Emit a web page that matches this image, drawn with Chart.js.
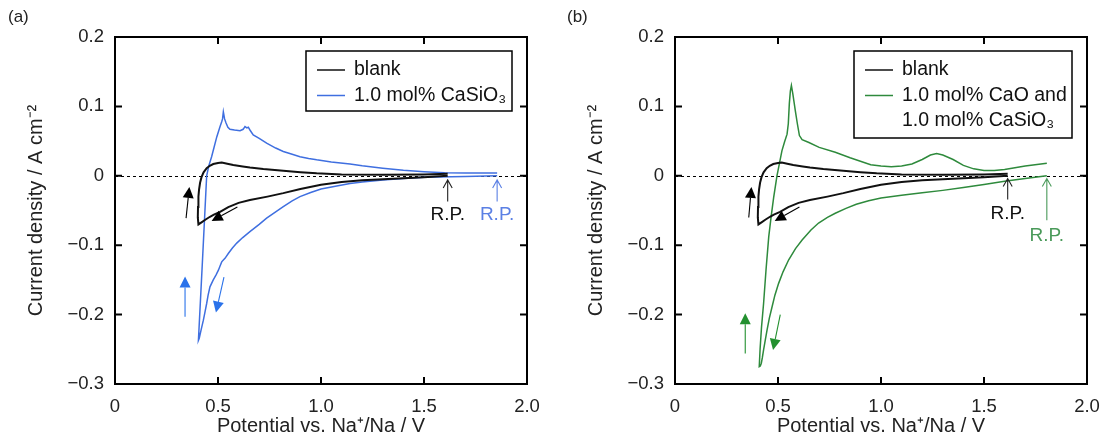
<!DOCTYPE html>
<html>
<head>
<meta charset="utf-8">
<script src="https://cdn.jsdelivr.net/npm/chart.js@4.4.1/dist/chart.umd.min.js"></script>
<style>
    body { margin: 0; background: #fff; width: 1102px; height: 444px; position: relative; overflow: hidden;
           font-family: "Liberation Sans", Arial, sans-serif; }
    .panel { position: absolute; top: 0; }
    .tag { position: absolute; top: 7px; font-size: 17px; color: #222; }
</style>
</head>
<body>
<div class="panel" style="left:0"><canvas id="chartA" width="545" height="444"></canvas></div>
<div class="panel" style="left:560px"><canvas id="chartB" width="542" height="444"></canvas></div>
<div class="tag" style="left:8px">(a)</div>
<div class="tag" style="left:567px">(b)</div>

<script>
// potential (V vs Na+/Na) and current density (A cm-2)
// each scan starts at the rest potential, goes cathodic to ~0.4 V and comes back
const potBlank = [1.615, 1.5, 1.4, 1.3, 1.2, 1.1, 1.0, 0.9, 0.817, 0.74, 0.655, 0.6, 0.55, 0.51, 0.48, 0.461, 0.44, 0.42, 0.405,
                  0.402, 0.403, 0.405, 0.408, 0.413, 0.42, 0.43, 0.445, 0.46, 0.477, 0.5, 0.518, 0.545, 0.574, 0.62, 0.655,
                  0.72, 0.817, 0.9, 0.979, 1.1, 1.3, 1.5, 1.615];
const curBlank = [0.0, -0.002, -0.0035, -0.005, -0.0065, -0.009, -0.013, -0.019, -0.025, -0.030, -0.035, -0.039, -0.045, -0.052, -0.056, -0.059, -0.063, -0.067, -0.070,
                  -0.060, -0.045, -0.030, -0.020, -0.010, -0.002, 0.005, 0.011, 0.0145, 0.017, 0.0185, 0.019, 0.0175, 0.0155, 0.0135, 0.012,
                  0.0098, 0.0074, 0.0052, 0.0036, 0.002, 0.0015, 0.002, 0.003];

const potCaSiO3 = [1.855, 1.7, 1.5, 1.4, 1.3, 1.2, 1.141, 1.07, 1.0, 0.95, 0.898, 0.86, 0.817, 0.78, 0.736, 0.7, 0.655, 0.62,
                   0.591, 0.57, 0.55, 0.534, 0.527, 0.518, 0.51, 0.502, 0.49, 0.477, 0.461, 0.452, 0.445, 0.437, 0.429, 0.418,
                   0.409, 0.405,
                   0.425, 0.445, 0.455, 0.469, 0.48, 0.494, 0.51, 0.518, 0.522, 0.526, 0.532, 0.539, 0.548, 0.558, 0.58, 0.607,
                   0.622, 0.631, 0.64, 0.647, 0.655, 0.671, 0.7, 0.736, 0.78, 0.817, 0.86, 0.898, 0.94, 0.979, 1.05, 1.141,
                   1.2, 1.3, 1.4, 1.5, 1.6, 1.7, 1.855];
const curCaSiO3 = [0.0, -0.001, -0.002, -0.004, -0.006, -0.009, -0.011, -0.015, -0.019, -0.024, -0.030, -0.036, -0.0445, -0.052, -0.061, -0.070, -0.0805, -0.089,
                   -0.097, -0.104, -0.112, -0.119, -0.121, -0.124, -0.130, -0.136, -0.143, -0.150, -0.160, -0.172, -0.184, -0.196, -0.208, -0.222,
                   -0.234, -0.237,
                   -0.12, 0.0, 0.014, 0.0275, 0.040, 0.056, 0.071, 0.078, 0.082, 0.092, 0.082, 0.076, 0.070, 0.067, 0.066, 0.065,
                   0.067, 0.071, 0.069, 0.070, 0.066, 0.059, 0.054, 0.047, 0.040, 0.035, 0.031, 0.0275, 0.025, 0.023, 0.020, 0.017,
                   0.0145, 0.011, 0.008, 0.006, 0.0045, 0.004, 0.004];

const potCaO = [1.805, 1.7, 1.6, 1.5, 1.4, 1.3, 1.2, 1.1, 1.0, 0.94, 0.88, 0.83, 0.778, 0.74, 0.697, 0.66, 0.617, 0.585,
                0.552, 0.525, 0.503, 0.485, 0.471, 0.458, 0.447, 0.438, 0.43, 0.424, 0.419, 0.414, 0.409,
                0.413, 0.42, 0.43, 0.442, 0.455, 0.467, 0.479, 0.495, 0.507, 0.519, 0.532, 0.544, 0.55, 0.555, 0.56, 0.565,
                0.572, 0.584, 0.594, 0.604, 0.617, 0.65, 0.7, 0.778, 0.85, 0.9, 0.95, 1.0, 1.05, 1.1, 1.15, 1.2, 1.24,
                1.27, 1.3, 1.35, 1.4, 1.45, 1.5, 1.55, 1.6, 1.7, 1.805];
const curCaO = [0.0, -0.004, -0.008, -0.0125, -0.017, -0.021, -0.0245, -0.028, -0.032, -0.036, -0.041, -0.047, -0.054, -0.060, -0.068, -0.078, -0.0925, -0.105,
                -0.121, -0.138, -0.155, -0.172, -0.189, -0.205, -0.222, -0.237, -0.251, -0.262, -0.270, -0.274, -0.275,
                -0.250, -0.218, -0.184, -0.135, -0.088, -0.058, -0.031, 0.0, 0.018, 0.036, 0.049, 0.060, 0.075, 0.104, 0.122, 0.130,
                0.118, 0.094, 0.075, 0.058, 0.052, 0.048, 0.041, 0.034, 0.026, 0.021, 0.016, 0.014, 0.013, 0.014, 0.017, 0.0235, 0.030,
                0.032, 0.030, 0.0235, 0.015, 0.010, 0.0077, 0.0075, 0.009, 0.014, 0.018];

const xTicks = [0, 0.5, 1.0, 1.5, 2.0];
const yTicks = [-0.3, -0.2, -0.1, 0, 0.1, 0.2];

const BLUE = '#3f6fe0', BLUE_ARROW = '#2a72ea', BLUE_LIGHT = '#5b80e4';
const GREEN = '#2e8a3c', GREEN_ARROW = '#23902f', GREEN_LIGHT = '#4a9a5a';

// scan direction arrows and rest potential marks (in data units)
const arrowsA = [
    { from: [0.345, -0.061], to: [0.361, -0.016], color: '#000', head: 'fill' },
    { from: [0.594, -0.045], to: [0.469, -0.065], color: '#000', head: 'fill' },
    { from: [0.340, -0.203], to: [0.340, -0.145], color: BLUE_ARROW, head: 'fill' },
    { from: [0.529, -0.146], to: [0.490, -0.197], color: BLUE_ARROW, head: 'fill' },
    { from: [1.615, -0.037], to: [1.615, -0.006], color: '#222', head: 'open' },
    { from: [1.855, -0.037], to: [1.855, -0.006], color: BLUE_LIGHT, head: 'open' }
];
const labelsA = [
    { text: 'R.P.', at: [1.615, -0.0565], color: '#111' },
    { text: 'R.P.', at: [1.855, -0.0565], color: BLUE_LIGHT }
];
const arrowsB = [
    { from: [0.358, -0.060], to: [0.371, -0.016], color: '#000', head: 'fill' },
    { from: [0.604, -0.045], to: [0.484, -0.065], color: '#000', head: 'fill' },
    { from: [0.341, -0.256], to: [0.341, -0.198], color: GREEN_ARROW, head: 'fill' },
    { from: [0.511, -0.200], to: [0.476, -0.251], color: GREEN_ARROW, head: 'fill' },
    { from: [1.615, -0.034], to: [1.615, -0.004], color: '#222', head: 'open' },
    { from: [1.805, -0.064], to: [1.805, -0.004], color: GREEN_LIGHT, head: 'open' }
];
const labelsB = [
    { text: 'R.P.', at: [1.615, -0.054], color: '#111' },
    { text: 'R.P.', at: [1.805, -0.087], color: GREEN_LIGHT }
];

const FONT = '"Liberation Sans", Arial, sans-serif';

function toPoints(xs, ys) {
    return xs.map((v, i) => ({ x: v, y: ys[i] }));
}

function fmt(v) {
    if (Math.abs(v) < 1e-9) return '0';
    return v.toFixed(1).replace('-', '\u2212');
}

function drawArrow(ctx, x0, y0, x1, y1, color, head) {
    const ang = Math.atan2(y1 - y0, x1 - x0);
    const c = Math.cos(ang), s = Math.sin(ang);
    ctx.strokeStyle = color;
    ctx.fillStyle = color;
    ctx.lineWidth = 1.1;
    if (head === 'fill') {
        const len = 11, half = 5.5;
        const bx = x1 - len * c, by = y1 - len * s;
        ctx.beginPath();
        ctx.moveTo(x0, y0);
        ctx.lineTo(bx, by);
        ctx.stroke();
        ctx.beginPath();
        ctx.moveTo(x1, y1);
        ctx.lineTo(bx - half * s, by + half * c);
        ctx.lineTo(bx + half * s, by - half * c);
        ctx.closePath();
        ctx.fill();
    } else {
        const len = 8, half = 4.5;
        const bx = x1 - len * c, by = y1 - len * s;
        ctx.beginPath();
        ctx.moveTo(x0, y0);
        ctx.lineTo(x1, y1);
        ctx.moveTo(bx - half * s, by + half * c);
        ctx.lineTo(x1, y1);
        ctx.lineTo(bx + half * s, by - half * c);
        ctx.stroke();
    }
}

const decorPlugin = {
    id: 'decor',
    beforeDatasetsDraw(chart) {
        const { ctx, chartArea: a, scales: { y } } = chart;
        const y0 = Math.round(y.getPixelForValue(0)) + 0.5;
        ctx.save();
        ctx.strokeStyle = '#000';
        ctx.lineWidth = 1;
        ctx.setLineDash([3, 3]);
        ctx.beginPath();
        ctx.moveTo(a.left, y0);
        ctx.lineTo(a.right, y0);
        ctx.stroke();
        ctx.restore();
    },
    afterDatasetsDraw(chart, args, opts) {
        const { ctx, chartArea: a, scales: { x, y } } = chart;
        ctx.save();

        // frame and inward ticks
        ctx.strokeStyle = '#000';
        ctx.lineWidth = 2;
        ctx.strokeRect(a.left, a.top, a.width, a.height);
        ctx.beginPath();
        xTicks.forEach(t => {
            const px = x.getPixelForValue(t);
            ctx.moveTo(px, a.bottom); ctx.lineTo(px, a.bottom - 7);
            ctx.moveTo(px, a.top); ctx.lineTo(px, a.top + 7);
        });
        yTicks.forEach(t => {
            const py = y.getPixelForValue(t);
            ctx.moveTo(a.left, py); ctx.lineTo(a.left + 7, py);
            ctx.moveTo(a.right, py); ctx.lineTo(a.right - 7, py);
        });
        ctx.stroke();

        // arrows
        opts.arrows.forEach(ar => {
            drawArrow(ctx,
                x.getPixelForValue(ar.from[0]), y.getPixelForValue(ar.from[1]),
                x.getPixelForValue(ar.to[0]), y.getPixelForValue(ar.to[1]),
                ar.color, ar.head);
        });

        // text labels
        ctx.font = '19px ' + FONT;
        ctx.textAlign = 'center';
        ctx.textBaseline = 'middle';
        opts.labels.forEach(lb => {
            ctx.fillStyle = lb.color;
            ctx.fillText(lb.text, x.getPixelForValue(lb.at[0]), y.getPixelForValue(lb.at[1]));
        });

        // legend box
        const lg = opts.legend;
        const boxLeft = a.right - 15 - lg.width;
        const boxTop = a.top + 14;
        ctx.fillStyle = '#fff';
        ctx.fillRect(boxLeft, boxTop, lg.width, lg.height);
        ctx.strokeStyle = '#000';
        ctx.lineWidth = 1.5;
        ctx.strokeRect(boxLeft, boxTop, lg.width, lg.height);
        ctx.textAlign = 'left';
        ctx.font = '19.5px ' + FONT;
        let row = 0;
        chart.data.datasets.forEach(ds => {
            const lines = Array.isArray(ds.label) ? ds.label : [ds.label];
            const yy = boxTop + 19 + row * 25.5;
            ctx.strokeStyle = ds.borderColor;
            ctx.lineWidth = 1.5;
            ctx.beginPath();
            ctx.moveTo(boxLeft + 11, yy);
            ctx.lineTo(boxLeft + 39, yy);
            ctx.stroke();
            ctx.fillStyle = '#111';
            lines.forEach((ln, k) => ctx.fillText(ln, boxLeft + 48, yy + k * 25.5));
            row += lines.length;
        });
        ctx.restore();
    }
};

function makeChart(id, datasets, arrows, labels, legend) {
    const canvas = document.getElementById(id);
    const W = canvas.width;
    const tickFont = { family: FONT, size: 18.5 };
    const titleFont = { family: FONT, size: 20 };
    return new Chart(canvas, {
        type: 'scatter',
        data: { datasets: datasets },
        options: {
            responsive: false,
            animation: false,
            layout: { padding: { top: 37, right: W - 527, left: 0, bottom: 0 } },
            plugins: {
                legend: { display: false },
                tooltip: { enabled: false },
                decor: { arrows: arrows, labels: labels, legend: legend }
            },
            elements: { point: { radius: 0 }, line: { tension: 0 } },
            scales: {
                x: {
                    type: 'linear', min: 0, max: 2,
                    afterBuildTicks: s => { s.ticks = xTicks.map(v => ({ value: v })); },
                    afterFit: s => { s.height = 60; s.paddingLeft = 0; s.paddingRight = 0; },
                    grid: { display: false, drawTicks: false },
                    border: { display: false },
                    ticks: { color: '#222', font: tickFont, padding: 12, maxRotation: 0, callback: v => fmt(v) },
                    title: { display: true, text: 'Potential vs. Na\u207A/Na / V', color: '#222', font: titleFont,
                             padding: { top: 0, bottom: 6 } }
                },
                y: {
                    type: 'linear', min: -0.3, max: 0.2,
                    afterBuildTicks: s => { s.ticks = yTicks.map(v => ({ value: v })); },
                    afterFit: s => { s.width = 115; s.paddingTop = 0; s.paddingBottom = 0; },
                    grid: { display: false, drawTicks: false },
                    border: { display: false },
                    ticks: { color: '#222', font: tickFont, padding: 11, callback: v => fmt(v) },
                    title: { display: true, text: 'Current density / A cm\u207B\u00B2', color: '#222', font: titleFont,
                             padding: { top: 24, bottom: 0 } }
                }
            }
        },
        plugins: [decorPlugin]
    });
}

makeChart('chartA', [
    { label: 'blank', data: toPoints(potBlank, curBlank), showLine: true, borderColor: '#111', borderWidth: 2 },
    { label: '1.0 mol% CaSiO\u2083', data: toPoints(potCaSiO3, curCaSiO3), showLine: true, borderColor: BLUE, borderWidth: 1.5 }
], arrowsA, labelsA, { width: 206, height: 60 });

makeChart('chartB', [
    { label: 'blank', data: toPoints(potBlank, curBlank), showLine: true, borderColor: '#111', borderWidth: 2 },
    { label: ['1.0 mol% CaO and', '1.0 mol% CaSiO\u2083'], data: toPoints(potCaO, curCaO), showLine: true, borderColor: GREEN, borderWidth: 1.5 }
], arrowsB, labelsB, { width: 218, height: 87 });
</script>
</body>
</html>
